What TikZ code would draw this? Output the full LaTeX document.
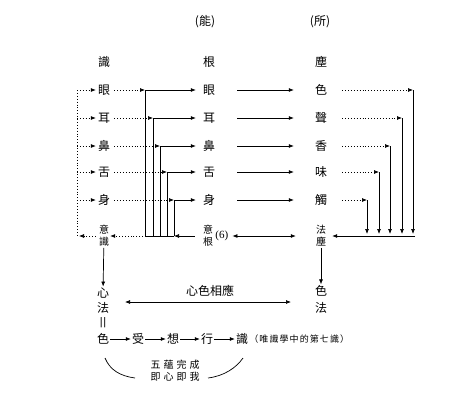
\documentclass[tikz,border=0pt]{standalone}
\usepackage{fontspec}
\setmainfont{Noto Sans CJK TC}
\newfontfamily\spcjk[LetterSpace=30]{Noto Sans CJK TC}
\newfontfamily\notecjk[LetterSpace=12]{Noto Sans CJK TC}
\newfontfamily\parenfont{Liberation Serif}
\newfontfamily\symfont{Liberation Sans}
\usetikzlibrary{arrows.meta}
\begin{document}
\begin{tikzpicture}[x=1pt,y=-1pt,
  ch/.style={font=\fontsize{12}{13}\selectfont, inner sep=1pt},
  sm/.style={font=\fontsize{10}{12}\selectfont, inner sep=1pt, align=center},
  ln/.style={line width=0.7pt},
  arr/.style={ln, -{Latex[length=5pt,width=4pt]}},
  darr/.style={ln, {Latex[length=5pt,width=4pt]}-{Latex[length=5pt,width=4pt]}},
  dotln/.style={ln, dash pattern=on 0.9pt off 2pt},
  dotarr/.style={arr, dash pattern=on 0.9pt off 2pt}]
\useasboundingbox (0,0) rectangle (469,405);

\node[ch] (neng) at (205,22) {(能)};
\node[ch] (suo) at (320,22) {(所)};
\node[ch] (s0) at (104,62) {識};
\node[ch] (g0) at (209,62) {根};
\node[ch] (c0) at (321,62) {塵};

\foreach \i/\y/\a/\b/\xl/\xr in {1/90/眼/色/145/413, 2/118/耳/聲/153/402, 3/146/鼻/香/160/390, 4/172/舌/味/167/379, 5/200/身/觸/174/367} {
  \node[ch] (s\i) at (104,\y) {\a};
  \node[ch] (g\i) at (209,\y) {\a};
  \node[ch] (c\i) at (321,\y) {\b};
  \coordinate (lv\i) at (\xl,\y);
  \coordinate (lb\i) at (\xl,236);
  \coordinate (rv\i) at (\xr,\y);
  \coordinate (rb\i) at (\xr,234);
  \coordinate (lw\i) at (77,\y);
  \draw[dotarr, shorten >=1pt] (lw\i) -- (s\i);
  \draw[dotarr, shorten <=3pt] (s\i) -- (lv\i);
  \draw[arr, shorten >=6pt] (lv\i) -- (g\i);
  \draw[ln] (lv\i) -- (lb\i);
  \draw[arr, shorten <=21pt, shorten >=20pt] (g\i) -- (c\i);
  \draw[dotarr, shorten <=14pt] (c\i) -- (rv\i);
  \draw[arr] (rv\i) -- (rb\i);
}

\node[sm] (s6) at (104,236) {意\\識};
\node[sm] (g6) at (208,236) {意\\根};
\node[font=\parenfont\fontsize{11}{12}\selectfont, inner sep=1pt, anchor=west] (g6n) at (g6.east) {(6)};
\node[sm] (c6) at (321,236) {法\\塵};

\coordinate (lwb) at (77,236);
\coordinate (lwa) at (79,236);
\draw[dotln] (lw1) -- (lwb);
\draw[dotarr, shorten <=2pt] (s6) -- (lwa);
\draw[dotarr, shorten <=2pt] (lb1) -- (s6);
\draw[ln] (lb1) -- (lb5);
\draw[arr, shorten <=7pt] (g6) -- (lb5);
\draw[darr, shorten <=3pt, shorten >=19pt] (g6n) -- (c6);
\coordinate (rbe) at (415,236);
\draw[arr, shorten >=5pt] (rbe) -- (c6);

\node[ch] (m1) at (103,293) {心};
\node[ch] (m2) at (103,308) {法};
\node[font=\symfont\fontsize{11}{12}\selectfont, inner sep=1pt] (m3) at (103,323) {|\kern0.6pt|};
\node[ch] (k1) at (103,339) {色};
\node[ch] (k2) at (138,339) {受};
\node[ch] (k3) at (173,339) {想};
\node[ch] (k4) at (207,339) {行};
\node[ch] (k5) at (242,339) {識};
\node[font=\notecjk\fontsize{9}{10}\selectfont, inner sep=0pt, anchor=west] (k6) at (k5.east) {（唯識學中的第七識）};
\draw[arr] (k1) -- (k2);
\draw[arr] (k2) -- (k3);
\draw[arr] (k3) -- (k4);
\draw[arr] (k4) -- (k5);
\draw[arr] (s6) -- (m1);

\node[ch] (xs) at (210,291) {心色相應};
\coordinate (hl) at (125,302);
\coordinate (hr) at (291,302);
\draw[darr] (hl) -- (hr);

\node[ch] (cf1) at (321,291) {色};
\node[ch] (cf2) at (321,308) {法};
\draw[arr] (c6) -- (cf1);

\node[font=\spcjk\fontsize{10}{11}\selectfont, inner sep=0pt] (w1) at (175,365) {五蘊完成};
\node[font=\spcjk\fontsize{10}{11}\selectfont, inner sep=0pt] (w2) at (175,377) {即心即我};
\coordinate (cl1) at (105,358);
\coordinate (cl2) at (135,378);
\coordinate (cr1) at (208,378);
\coordinate (cr2) at (243,358);
\draw[ln] (cl1) .. controls (110,370) and (120,376) .. (cl2);
\draw[ln] (cr1) .. controls (224,376) and (236,368) .. (cr2);
\end{tikzpicture}
\end{document}
